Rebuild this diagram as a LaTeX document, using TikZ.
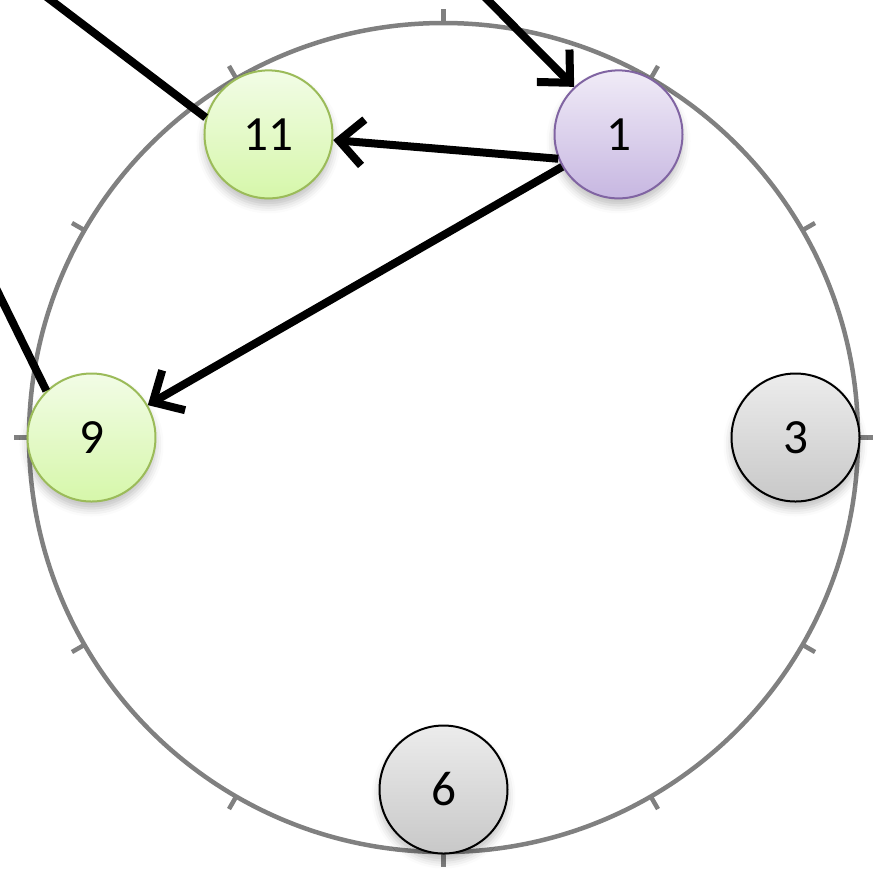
\documentclass[tikz,border=0pt]{standalone}
\usepackage{fontspec}
\setmainfont{Carlito}
\usetikzlibrary{arrows.meta,shadows.blur}
\definecolor{ringgray}{RGB}{128,128,128}
\definecolor{idletop}{RGB}{236,236,236}
\definecolor{idlebot}{RGB}{200,200,200}
\definecolor{hitline}{RGB}{155,187,89}
\definecolor{hittop}{RGB}{242,252,230}
\definecolor{hitbot}{RGB}{214,247,170}
\definecolor{selfline}{RGB}{128,100,162}
\definecolor{selftop}{RGB}{240,235,247}
\definecolor{selfbot}{RGB}{199,183,225}
\begin{document}
\begin{tikzpicture}[
    ring/.style={draw=ringgray, line width=0.045cm},
    peer/.style={circle, minimum size=1.28cm, inner sep=0pt, line width=0.02cm,
      font=\fontsize{14}{16}\selectfont,
      blur shadow={shadow xshift=0pt, shadow yshift=-0.7mm, shadow opacity=25, shadow blur radius=0.8mm}},
    idle/.style={peer, draw=black, top color=idletop, bottom color=idlebot},
    hit/.style={peer, draw=hitline, top color=hittop, bottom color=hitbot},
    self/.style={peer, draw=selfline, top color=selftop, bottom color=selfbot},
    hop/.style={line width=0.08cm, -{Straight Barb[length=2.4mm,width=4.6mm]}},
    link/.style={line width=0.08cm}
  ]
  \useasboundingbox (-4.435,-4.305) rectangle (4.375,4.375);
  \clip (-4.435,-4.305) rectangle (4.375,4.375);
  % ring with clock ticks
  \draw[ring] (0,0) circle (4.145);
  \foreach \a in {0,30,...,330}
    \draw[ring] (\a:4.145) -- (\a:4.29);
  \draw
    (0:3.52) node[idle] (3){3}
    (60:3.5) node[self] (1){1}
    (120:3.5) node[hit] (11){11}
    (180:3.52) node[hit] (9){9}
    (270:3.52) node[idle] (6){6};
  \coordinate (in1) at (-0.135,4.955);
  \coordinate (lft11) at (-4.785,5.025);
  \coordinate (lft9) at (-4.845,2.245);
  \begin{scope}[hop]
    \draw (in1) to (1.133);
    \draw (1.202) to (11.-5);
    \draw (1) to (9);
  \end{scope}
  \draw[link] (lft11) to (11.165);
  \draw[link] (lft9) to (9.134);
\end{tikzpicture}
\end{document}
